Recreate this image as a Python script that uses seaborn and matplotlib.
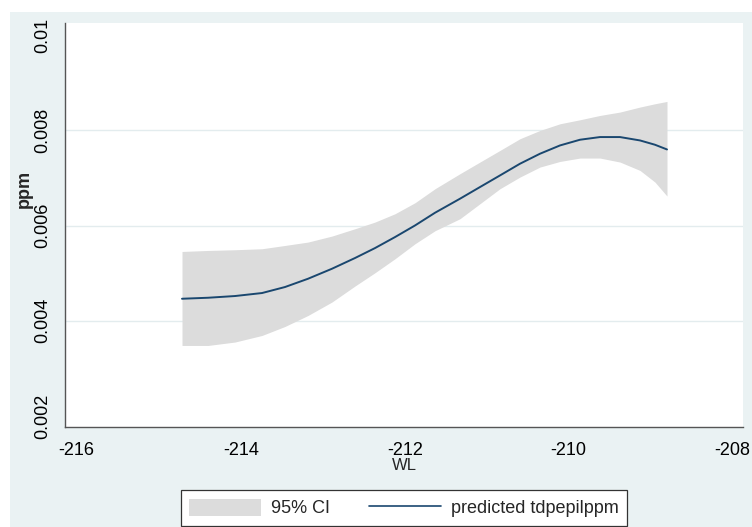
import numpy as np
import pandas as pd
import matplotlib
matplotlib.use("Agg")
import matplotlib.pyplot as plt
from matplotlib.patches import Rectangle, Patch
from matplotlib.lines import Line2D
import seaborn as sns

# Fitted prediction of tdpepilppm against WL with its 95% confidence band
wl = [-214.716, -214.399, -214.070, -213.740, -213.460, -213.179, -212.887, -212.606,
      -212.362, -212.118, -211.874, -211.630, -211.326, -211.082, -210.838, -210.594,
      -210.350, -210.106, -209.862, -209.618, -209.374, -209.130, -208.948, -208.801]
predicted = [0.004462, 0.004483, 0.004519, 0.004582, 0.004708, 0.004882, 0.005092, 0.005317,
             0.005526, 0.005757, 0.006001, 0.006268, 0.006562, 0.006807, 0.007051, 0.007297,
             0.007507, 0.007681, 0.007801, 0.007857, 0.007857, 0.007786, 0.007696, 0.007597]
ci_upper = [0.005455, 0.005476, 0.005491, 0.005512, 0.005581, 0.005652, 0.005778, 0.005932,
            0.006072, 0.006247, 0.006478, 0.006772, 0.007087, 0.007332, 0.007576, 0.007822,
            0.007996, 0.008136, 0.008220, 0.008311, 0.008382, 0.008487, 0.008556, 0.008605]
ci_lower = [0.003481, 0.003481, 0.003553, 0.003691, 0.003880, 0.004111, 0.004393, 0.004729,
            0.005008, 0.005302, 0.005617, 0.005890, 0.006142, 0.006457, 0.006772, 0.007017,
            0.007227, 0.007345, 0.007416, 0.007416, 0.007332, 0.007156, 0.006912, 0.006618]

x_ticks = [-216, -214, -212, -210, -208]
y_ticks = [0.002, 0.004, 0.006, 0.008, 0.01]
y_tick_labels = ["0.002", "0.004", "0.006", "0.008", "0.01"]

df = pd.DataFrame({"WL": wl, "pred": predicted, "lo": ci_lower, "hi": ci_upper})

sns.set_style("white")
plt.rcParams["font.family"] = ["Liberation Sans", "DejaVu Sans"]

W, H = 752, 527
fig = plt.figure(figsize=(W / 100, H / 100), dpi=100, facecolor="white")
outer = "#EAF2F3"
fig.patches.append(Rectangle((10 / W, 0), (W - 10) / W, (H - 12) / H,
                             transform=fig.transFigure, facecolor=outer,
                             edgecolor="none", zorder=-10))

ax = fig.add_axes([65 / W, 1 - 427 / H, (743 - 65) / W, (427 - 23) / H])
ax.set_facecolor("white")

ci_color = "#DCDCDC"
line_color = "#1A476F"
ax.fill_between(df["WL"], df["lo"], df["hi"], color=ci_color, linewidth=0, zorder=2)
sns.lineplot(data=df, x="WL", y="pred", ax=ax, color=line_color, linewidth=1.4,
             zorder=3, legend=False)

ax.set_xlim(-216.143, -207.874)
ax.set_ylim(0.001769, 0.010252)
ax.set_xticks(x_ticks)
ax.set_xticklabels([str(t) for t in x_ticks], fontsize=13)
ax.set_yticks(y_ticks)
ax.set_yticklabels(y_tick_labels, fontsize=13, rotation=90, va="center")

for v in [0.004, 0.006, 0.008]:
    ax.axhline(v, color="#E3ECEE", linewidth=1.0, zorder=1)

for side in ["top", "right"]:
    ax.spines[side].set_visible(False)
for side in ["left", "bottom"]:
    ax.spines[side].set_color("#555555")
    ax.spines[side].set_linewidth(1.0)
ax.tick_params(axis="both", direction="out", length=5.5, width=1.0,
               color="#555555", labelcolor="black")
ax.tick_params(axis="x", pad=5.5)
ax.tick_params(axis="y", pad=4.5)

ax.set_xlabel("")
ax.set_ylabel("")
fig.text(404 / W, 1 - 466 / H, "WL", fontsize=12, ha="center", va="center")
fig.text(24 / W, 1 - 189 / H, "ppm", rotation=90, fontsize=13, fontweight="bold",
         ha="center", va="center")

handles = [Patch(facecolor=ci_color, edgecolor="none"),
           Line2D([0], [0], color=line_color, linewidth=1.2)]
leg = fig.legend(handles, ["95% CI", "predicted tdpepilppm"], ncol=2,
                 loc="center", bbox_to_anchor=(404 / W, 1 - 508 / H),
                 frameon=True, fancybox=False, fontsize=13,
                 handlelength=4.0, handleheight=1.1, columnspacing=2.15,
                 borderpad=0.45, handletextpad=0.55)
leg.get_frame().set_edgecolor("#333333")
leg.get_frame().set_linewidth(0.9)
leg.get_frame().set_alpha(1.0)

fig.savefig("out.png", dpi=100, facecolor=fig.get_facecolor())
